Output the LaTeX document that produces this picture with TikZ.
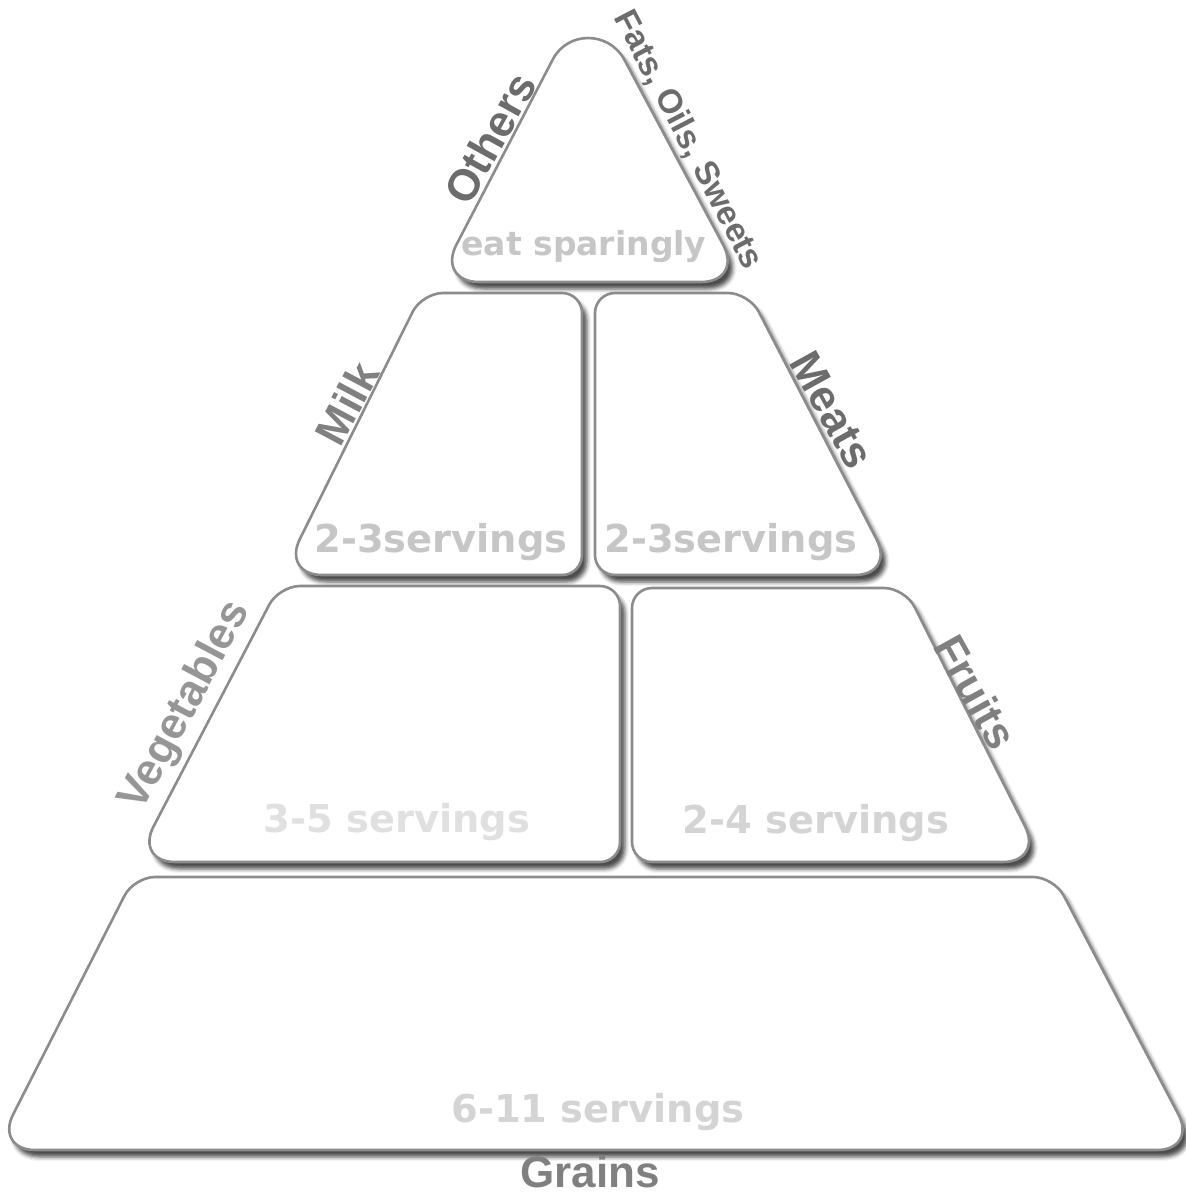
\documentclass[tikz,border=0pt]{standalone}
\usepackage{fontspec}
\setmainfont{Liberation Sans}
\newfontfamily\widefont{DejaVu Sans}
\usetikzlibrary{shadows.blur}
\definecolor{tierline}{RGB}{140,140,140}
\definecolor{lbldark}{RGB}{108,108,108}
\definecolor{lblmid}{RGB}{128,128,128}
\definecolor{lbllight}{RGB}{150,150,150}
\definecolor{srvdark}{RGB}{198,198,198}
\definecolor{srvmid}{RGB}{212,212,212}
\definecolor{srvlight}{RGB}{224,224,224}

\begin{document}
\begin{tikzpicture}[
    x=0.5pt, y=-0.5pt,
    every node/.style={inner sep=0pt},
    tier/.style={draw=tierline, line width=1.3pt, fill=white, line join=round,
        blur shadow={shadow xshift=2.5pt, shadow yshift=-3.5pt,
            shadow blur radius=2pt, shadow opacity=70}},
    acutecorner/.style={rounded corners=20pt},
    bluntcorner/.style={rounded corners=10.5pt},
    rightcorner/.style={rounded corners=10pt},
    grp/.style={font=\bfseries\fontsize{22}{22}\selectfont},
    srv/.style={font=\widefont\bfseries\fontsize{19.2}{19.2}\selectfont},
]
\useasboundingbox (0,0) rectangle (1185,1194);

% ====== TOP: Others ======
\draw[tier] (590,282) [rounded corners=21pt] -- (437,282) [sharp corners] -- (553,59)
    .. controls (568,31) and (608,31) .. (624,59)
    [rounded corners=21pt] -- (743,282) -- cycle;
\node[grp, text=lbldark, rotate=61] (others-lbl) at (490,138) {Others};
\node[grp, text=lbldark, rotate=-62.5, font=\bfseries\fontsize{16.8}{16.8}\selectfont]
    (fats-lbl) at (688,140) {Fats, Oils, Sweets};
\node[srv, text=srvdark, font=\widefont\bfseries\fontsize{16.5}{16.5}\selectfont]
    (others-srv) at (584,247) {eat sparingly};

% ====== SECOND ROW: Milk, Meats ======
\draw[tier] (432,575) [acutecorner] -- (282,575) [bluntcorner] -- (422,293)
    [rightcorner] -- (582,293) -- (582,575) -- cycle;
\draw[tier] (745,575) [rightcorner] -- (595,575) -- (595,293)
    [bluntcorner] -- (749,293) [acutecorner] -- (895,575) -- cycle;
\node[grp, text=lblmid, rotate=62] (milk-lbl) at (347,403) {Milk};
\node[grp, text=lbldark, rotate=-61] (meats-lbl) at (832,410) {Meats};
\node[srv, text=srvdark] (milk-srv)  at (441,542) {2-3servings};
\node[srv, text=srvdark] (meats-srv) at (731,542) {2-3servings};

% ====== THIRD ROW: Vegetables, Fruits ======
\draw[tier] (380,862) [acutecorner] -- (135,862) [bluntcorner] -- (279,586)
    [rightcorner] -- (620,586) -- (620,862) -- cycle;
\draw[tier] (840,862) [rightcorner] -- (632,862) -- (632,588)
    [bluntcorner] -- (905,588) [acutecorner] -- (1043,862) -- cycle;
\node[grp, text=lbllight, rotate=62] (veg-lbl) at (186,706) {Vegetables};
\node[grp, text=lblmid, rotate=-61] (fruits-lbl) at (976,692) {Fruits};
\node[srv, text=srvlight] (veg-srv)    at (397,822) {3-5 servings};
\node[srv, text=srvmid]   (fruits-srv) at (816,823) {2-4 servings};

% ====== BASE: Grains ======
\draw[tier] (596,1150) [acutecorner] -- (-5,1150) [bluntcorner] -- (134,877)
    -- (1054,877) [acutecorner] -- (1197,1150) -- cycle;
\node[srv, text=srvmid] (grains-srv) at (598,1112) {6-11 servings};
\node[grp, text=lblmid] (grains-lbl) at (590,1172) {Grains};

\end{tikzpicture}
\end{document}
